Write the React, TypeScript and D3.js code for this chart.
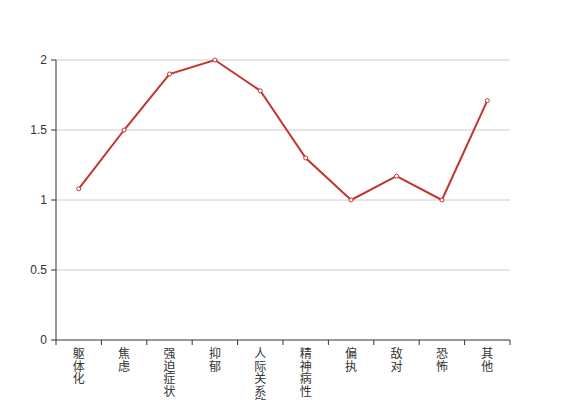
import React from "react";
import * as d3 from "d3";

const categories = ["躯体化", "焦虑", "强迫症状", "抑郁", "人际关系敏感", "精神病性", "偏执", "敌对", "恐怖", "其他"];
const values = [1.08, 1.5, 1.9, 2.0, 1.78, 1.3, 1.0, 1.17, 1.0, 1.71];
const yTicks = [0, 0.5, 1, 1.5, 2];
const yTickLabels = ["0", "0.5", "1", "1.5", "2"];

const W = 567;
const H = 400;
const margin = { left: 56, right: 57, top: 60, bottom: 60 };

export default function App() {
  const x = d3.scaleBand<string>().domain(categories).range([margin.left, W - margin.right]);
  const y = d3.scaleLinear().domain([0, 2]).range([H - margin.bottom, margin.top]);
  const line = d3
    .line<number>()
    .x((_, i) => (x(categories[i]) as number) + x.bandwidth() / 2)
    .y((d) => y(d));
  const font = "'Liberation Sans', 'Noto Sans CJK SC', sans-serif";
  const bounds = [...categories.map((c) => x(c) as number), W - margin.right];
  return (
    <svg width={W} height={H} style={{ position: "absolute", left: 0, top: 0 }} fontFamily={font}>
      {yTicks.map((t, i) => (
        <g key={i}>
          {t !== 0 && (
            <line x1={margin.left} x2={W - margin.right} y1={y(t)} y2={y(t)} stroke="#ccc" strokeWidth={1} />
          )}
          <line x1={margin.left - 5} x2={margin.left} y1={y(t)} y2={y(t)} stroke="#333" />
          <text x={margin.left - 9} y={y(t)} dy="0.35em" textAnchor="end" fontSize={12} fill="#333">
            {yTickLabels[i]}
          </text>
        </g>
      ))}
      <line x1={margin.left} x2={margin.left} y1={y(0)} y2={y(2)} stroke="#333" />
      <line x1={margin.left} x2={W - margin.right} y1={y(0)} y2={y(0)} stroke="#333" />
      {bounds.map((b, i) => (
        <line key={i} x1={b} x2={b} y1={y(0)} y2={y(0) + 5} stroke="#333" />
      ))}
      {categories.map((c) => (
        <text key={c} x={(x(c) as number) + x.bandwidth() / 2} y={y(0) + 8} fontSize={12} fill="#333" textAnchor="middle">
          {Array.from(c).map((ch, j) => (
            <tspan key={j} x={(x(c) as number) + x.bandwidth() / 2} y={y(0) + 18 + j * 12.5}>
              {ch}
            </tspan>
          ))}
        </text>
      ))}
      <path d={line(values) || ""} fill="none" stroke="#c23531" strokeWidth={2} />
      {values.map((v, i) => (
        <circle
          key={i}
          cx={(x(categories[i]) as number) + x.bandwidth() / 2}
          cy={y(v)}
          r={2}
          fill="#fff"
          stroke="#c23531"
          strokeWidth={1}
        />
      ))}
    </svg>
  );
}
